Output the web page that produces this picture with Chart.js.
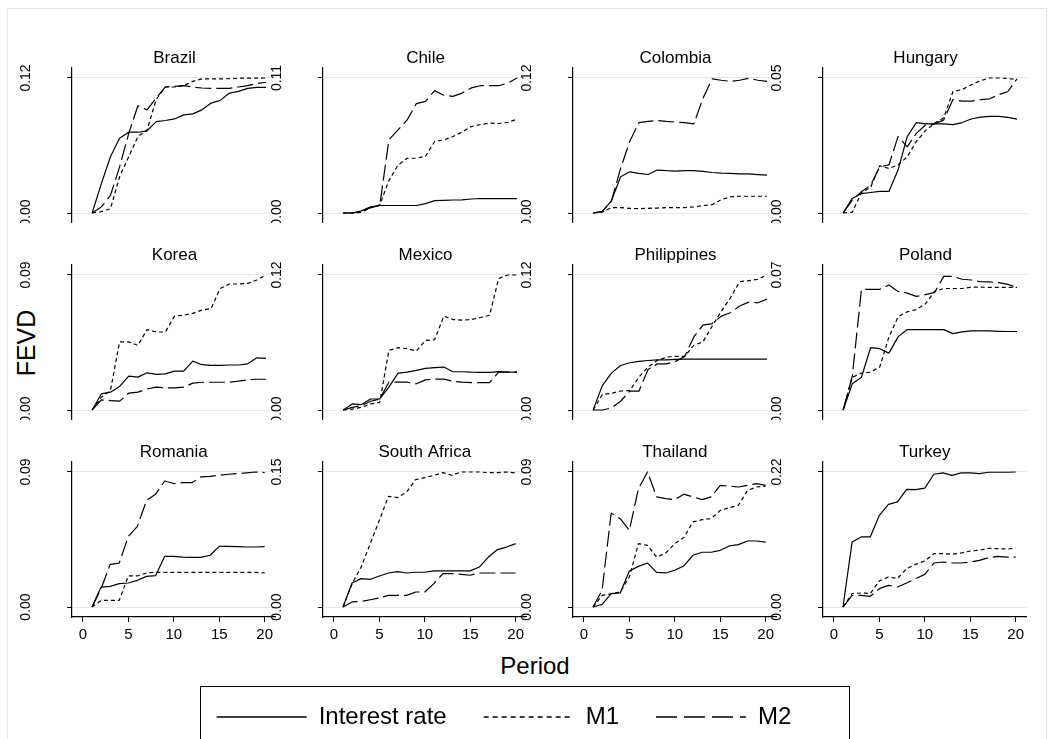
<!DOCTYPE html>
<html>
<head>
<meta charset="utf-8">
<title>FEVD by country</title>
<script src="https://cdn.jsdelivr.net/npm/chart.js@4.4.1/dist/chart.umd.min.js"></script>
<style>
  html, body { margin: 0; padding: 0; background: #fff; }
  body { width: 1053px; height: 739px; position: relative; overflow: hidden;
         font-family: "Liberation Sans", Arial, sans-serif; }
  .frame { position: absolute; left: 7px; top: 8px; width: 1040px; height: 740px;
           border: 1px solid #e3e9eb; box-sizing: border-box; }
  .panel { position: absolute; }
  .axis-title { position: absolute; color: #000; white-space: nowrap; line-height: 1; }
  #fevd { left: 26px; top: 343px; font-size: 25px; transform: translate(-50%, -50%) rotate(-90deg); }
  #period { left: 535px; top: 666px; font-size: 24px; transform: translate(-50%, -50%); }
  #legendBox { position: absolute; left: 200px; top: 686px; width: 650px; height: 70px;
               border: 1px solid #000; box-sizing: border-box; }
  #legendWrap { position: absolute; left: -22px; top: -19px; width: 650px; height: 160px; }
</style>
</head>
<body>
<div class="frame"></div>
<div class="axis-title" id="fevd">FEVD</div>
<div class="axis-title" id="period">Period</div>
<div id="legendBox"><div id="legendWrap"><canvas id="legendCanvas"></canvas></div></div>

<script>
// ---- data -------------------------------------------------------------
const countries = ['Brazil', 'Chile', 'Colombia', 'Hungary',
                   'Korea', 'Mexico', 'Philippines', 'Poland',
                   'Romania', 'South Africa', 'Thailand', 'Turkey'];
const periods = [1, 2, 3, 4, 5, 6, 7, 8, 9, 10, 11, 12, 13, 14, 15, 16, 17, 18, 19, 20];
const xTicks = [0, 5, 10, 15, 20];
// upper labelled tick of each panel's y axis (lower tick is 0.00)
const yAxisTop = [0.12, 0.11, 0.12, 0.05, 0.09, 0.12, 0.12, 0.07, 0.09, 0.15, 0.09, 0.22];
const seriesNames = ['Interest rate', 'M1', 'M2'];

// share of forecast error variance explained by the interest rate shock
const interestRate = [
  [0, .0259, .0500, .0664, .0718, .0718, .0730, .0812, .0822, .0836, .0872, .0881, .0917, .0977, .1001, .1066, .1081, .1108, .1116, .1116],
  [0, 0, .0017, .0050, .0061, .0061, .0061, .0061, .0061, .0077, .0101, .0103, .0106, .0107, .0114, .0118, .0118, .0118, .0118, .0118],
  [0, .0014, .0108, .0322, .0366, .0352, .0342, .0382, .0376, .0372, .0376, .0376, .0370, .0360, .0354, .0352, .0348, .0348, .0342, .0336],
  [0, .0054, .0072, .0076, .0080, .0080, .0159, .0283, .0335, .0330, .0330, .0330, .0327, .0335, .0348, .0355, .0358, .0358, .0354, .0348],
  [0, .0107, .0119, .0157, .0226, .0219, .0248, .0237, .0241, .0259, .0259, .0326, .0302, .0297, .0297, .0300, .0300, .0308, .0348, .0344],
  [0, .0054, .0048, .0098, .0098, .0203, .0328, .0337, .0352, .0370, .0376, .0382, .0340, .0340, .0336, .0334, .0334, .0342, .0336, .0336],
  [0, .0217, .0328, .0396, .0420, .0432, .0440, .0446, .0446, .0450, .0452, .0452, .0452, .0452, .0452, .0452, .0452, .0452, .0452, .0452],
  [0, .0136, .0170, .0323, .0318, .0295, .0379, .0417, .0417, .0417, .0417, .0417, .0396, .0405, .0410, .0410, .0410, .0408, .0407, .0407],
  [0, .0133, .0138, .0156, .0160, .0178, .0204, .0209, .0338, .0338, .0333, .0331, .0331, .0345, .0404, .0404, .0402, .0400, .0400, .0402],
  [0, .0267, .0315, .0308, .0345, .0378, .0393, .0378, .0386, .0386, .0401, .0401, .0401, .0401, .0401, .0444, .0555, .0638, .0666, .0704],
  [0, .0018, .0089, .0094, .0240, .0271, .0293, .0231, .0227, .0245, .0274, .0345, .0365, .0365, .0378, .0407, .0416, .0440, .0440, .0433],
  [0, .1058, .1142, .1142, .1494, .1672, .1712, .1918, .1912, .1938, .2163, .2185, .2145, .2185, .2185, .2174, .2196, .2196, .2196, .2200]
];

// share explained by the M1 shock
const moneyM1 = [
  [0, .0012, .0038, .0322, .0500, .0679, .0738, .1009, .1120, .1120, .1132, .1170, .1192, .1192, .1192, .1194, .1198, .1198, .1198, .1200],
  [0, 0, .0006, .0044, .0066, .0264, .0391, .0446, .0446, .0462, .0583, .0595, .0623, .0660, .0704, .0721, .0732, .0729, .0739, .0765],
  [0, .0008, .0048, .0048, .0042, .0038, .0042, .0044, .0048, .0048, .0048, .0054, .0066, .0074, .0119, .0143, .0149, .0149, .0149, .0149],
  [0, .0003, .0075, .0095, .0175, .0165, .0178, .0208, .0265, .0305, .0333, .0353, .0450, .0457, .0475, .0490, .0500, .0500, .0498, .0494],
  [0, .0085, .0130, .0454, .0454, .0431, .0536, .0520, .0520, .0626, .0632, .0644, .0666, .0677, .0810, .0840, .0840, .0844, .0867, .0900],
  [0, .0008, .0024, .0054, .0068, .0530, .0554, .0545, .0524, .0619, .0625, .0834, .0804, .0798, .0804, .0822, .0842, .1170, .1200, .1200],
  [0, .0137, .0149, .0169, .0173, .0292, .0382, .0440, .0470, .0476, .0476, .0575, .0606, .0744, .0876, .0996, .1140, .1150, .1162, .1200],
  [0, .0170, .0191, .0196, .0223, .0378, .0483, .0509, .0521, .0551, .0615, .0630, .0630, .0630, .0637, .0637, .0636, .0636, .0636, .0636],
  [0, .0044, .0044, .0044, .0207, .0207, .0227, .0231, .0231, .0231, .0231, .0231, .0231, .0231, .0231, .0231, .0231, .0231, .0231, .0227],
  [0, .0260, .0444, .0704, .0963, .1230, .1215, .1278, .1415, .1437, .1463, .1493, .1463, .1500, .1500, .1500, .1493, .1493, .1500, .1490],
  [0, .0077, .0089, .0100, .0200, .0422, .0411, .0333, .0360, .0422, .0463, .0567, .0582, .0589, .0644, .0662, .0678, .0778, .0800, .0805],
  [0, .0218, .0229, .0218, .0425, .0488, .0466, .0625, .0695, .0750, .0869, .0869, .0858, .0880, .0913, .0924, .0957, .0950, .0946, .0957]
];

// share explained by the M2 shock
const moneyM2 = [
  [0, .0054, .0156, .0410, .0708, .0953, .0917, .1021, .1120, .1126, .1132, .1120, .1111, .1108, .1108, .1108, .1120, .1132, .1150, .1162],
  [0, 0, .0011, .0044, .0061, .0595, .0677, .0759, .0891, .0909, .0997, .0960, .0950, .0977, .1019, .1037, .1037, .1037, .1059, .1100],
  [0, .0014, .0108, .0396, .0636, .0804, .0814, .0822, .0814, .0808, .0804, .0792, .1020, .1192, .1180, .1170, .1180, .1198, .1180, .1170],
  [0, .0048, .0079, .0103, .0171, .0178, .0283, .0245, .0295, .0326, .0330, .0345, .0420, .0414, .0414, .0420, .0423, .0438, .0450, .0497],
  [0, .0067, .0063, .0059, .0112, .0119, .0140, .0152, .0148, .0148, .0152, .0179, .0185, .0185, .0185, .0185, .0192, .0201, .0205, .0205],
  [0, .0024, .0038, .0078, .0098, .0247, .0247, .0247, .0233, .0268, .0274, .0274, .0256, .0247, .0244, .0244, .0244, .0336, .0336, .0336],
  [0, 0, .0018, .0078, .0167, .0167, .0360, .0410, .0410, .0432, .0476, .0649, .0754, .0768, .0834, .0864, .0924, .0959, .0953, .0985],
  [0, .0175, .0625, .0625, .0625, .0648, .0615, .0606, .0589, .0598, .0610, .0693, .0693, .0678, .0674, .0665, .0664, .0660, .0651, .0636],
  [0, .0122, .0284, .0293, .0471, .0538, .0711, .0752, .0840, .0823, .0829, .0829, .0867, .0871, .0878, .0885, .0889, .0894, .0900, .0896],
  [0, .0056, .0063, .0081, .0101, .0129, .0129, .0129, .0167, .0167, .0260, .0371, .0371, .0363, .0353, .0378, .0378, .0378, .0378, .0378],
  [0, .0111, .0626, .0589, .0511, .0789, .0900, .0734, .0722, .0716, .0752, .0734, .0716, .0734, .0811, .0805, .0800, .0811, .0823, .0811],
  [0, .0189, .0189, .0174, .0299, .0352, .0326, .0392, .0462, .0532, .0717, .0733, .0717, .0717, .0733, .0761, .0803, .0825, .0814, .0814]
];

// ---- layout & style ---------------------------------------------------
const FONT = '"Liberation Sans", Arial, Helvetica, sans-serif';
const COL_AXIS_X = [72, 323, 573, 823];   // x of each column's y-axis line
const ROW_AXIS_TOP = [68, 265, 462];      // top of each row's plot area
const PLOT_W = 205, PLOT_H = 155;
const LABEL_W = 70, HEAD_H = 40, FOOT_H = 30;
const X_MIN = -1.2, X_MAX = 21.2;
const Y_PAD = 0.074;                      // headroom above/below the labelled range
const GRID_COLOR = '#e2e9eb';
const LINE_DASH = [[], [4, 3], [16, 5]];
const LEGEND_DASH = [[], [5, 4], [21, 7]];

Chart.defaults.font.family = FONT;
Chart.defaults.color = '#000';

// panel heading and rotated end labels of the y axis
const panelText = {
  id: 'panelText',
  afterDraw(chart, _args, opts) {
    const { ctx, chartArea: a, scales: { y } } = chart;
    ctx.save();
    ctx.fillStyle = '#000';
    ctx.textAlign = 'center';
    ctx.textBaseline = 'middle';
    ctx.font = `${opts.titleSize}px ${FONT}`;
    ctx.fillText(opts.title, (a.left + a.right) / 2, a.top - opts.titleGap);
    ctx.font = `${opts.tickSize}px ${FONT}`;
    y.ticks.forEach(t => {
      ctx.save();
      ctx.translate(a.left - opts.tickGap, y.getPixelForValue(t.value));
      ctx.rotate(-Math.PI / 2);
      ctx.fillText(t.value.toFixed(2), 0, 0);
      ctx.restore();
    });
    ctx.restore();
  }
};

function series(label, values, dash) {
  return {
    label,
    data: values.map((v, k) => ({ x: periods[k], y: v })),
    borderColor: '#000',
    borderWidth: 1.2,
    borderDash: dash,
    borderJoinStyle: 'round',
    pointRadius: 0,
    fill: false,
    tension: 0
  };
}

function panelConfig(i, isBottom) {
  const top = yAxisTop[i];
  const xScale = {
    type: 'linear',
    min: X_MIN,
    max: X_MAX,
    display: isBottom,
    afterBuildTicks: s => { s.ticks = xTicks.map(v => ({ value: v })); },
    grid: { drawOnChartArea: false, drawTicks: true, tickLength: 5, tickColor: '#000' },
    border: { display: true, color: '#000', width: 1.2 },
    ticks: { color: '#000', font: { size: 15 }, padding: 4, maxRotation: 0, autoSkip: false }
  };
  if (isBottom) xScale.afterFit = s => { s.height = FOOT_H; };
  return {
    type: 'line',
    data: {
      datasets: [
        series(seriesNames[0], interestRate[i], LINE_DASH[0]),
        series(seriesNames[1], moneyM1[i], LINE_DASH[1]),
        series(seriesNames[2], moneyM2[i], LINE_DASH[2])
      ]
    },
    options: {
      animation: false,
      responsive: true,
      maintainAspectRatio: false,
      events: [],
      layout: { padding: { top: HEAD_H, left: 0, right: 0, bottom: 0 } },
      scales: {
        x: xScale,
        y: {
          type: 'linear',
          min: -Y_PAD * top,
          max: (1 + Y_PAD) * top,
          afterBuildTicks: s => { s.ticks = [{ value: 0 }, { value: top }]; },
          afterFit: s => { s.width = LABEL_W; },
          grid: { color: GRID_COLOR, lineWidth: 1, drawTicks: true, tickLength: 5, tickColor: '#000' },
          border: { display: true, color: '#000', width: 1.2 },
          ticks: { display: false }
        }
      },
      plugins: {
        legend: { display: false },
        tooltip: { enabled: false },
        panelText: { title: countries[i], titleSize: 17, titleGap: 10, tickSize: 14, tickGap: 46 }
      }
    },
    plugins: [panelText]
  };
}

countries.forEach((name, i) => {
  const row = Math.floor(i / 4), col = i % 4, isBottom = row === 2;
  const div = document.createElement('div');
  div.className = 'panel';
  div.style.left = (COL_AXIS_X[col] - LABEL_W) + 'px';
  div.style.top = (ROW_AXIS_TOP[row] - HEAD_H) + 'px';
  div.style.width = (LABEL_W + PLOT_W) + 'px';
  div.style.height = (HEAD_H + PLOT_H + (isBottom ? FOOT_H : 0)) + 'px';
  const cv = document.createElement('canvas');
  div.appendChild(cv);
  document.body.appendChild(div);
  new Chart(cv, panelConfig(i, isBottom));
});

// ---- legend -----------------------------------------------------------
new Chart(document.getElementById('legendCanvas'), {
  type: 'line',
  data: {
    datasets: seriesNames.map((name, k) => ({
      label: name, data: [], borderColor: '#000', borderWidth: 1.5, borderDash: LEGEND_DASH[k]
    }))
  },
  options: {
    animation: false,
    responsive: true,
    maintainAspectRatio: false,
    events: [],
    scales: { x: { display: false }, y: { display: false } },
    plugins: {
      tooltip: { enabled: false },
      legend: {
        display: true,
        position: 'top',
        labels: {
          usePointStyle: true, pointStyle: 'line', pointStyleWidth: 90,
          color: '#000', font: { size: 24 }, padding: 37,
          generateLabels: chart =>
            Chart.defaults.plugins.legend.labels.generateLabels(chart).map((item, k) => ({
              ...item, pointStyle: 'line', strokeStyle: '#000', lineWidth: 1.5, lineDash: LEGEND_DASH[k]
            }))
        }
      }
    }
  }
});
</script>
</body>
</html>
